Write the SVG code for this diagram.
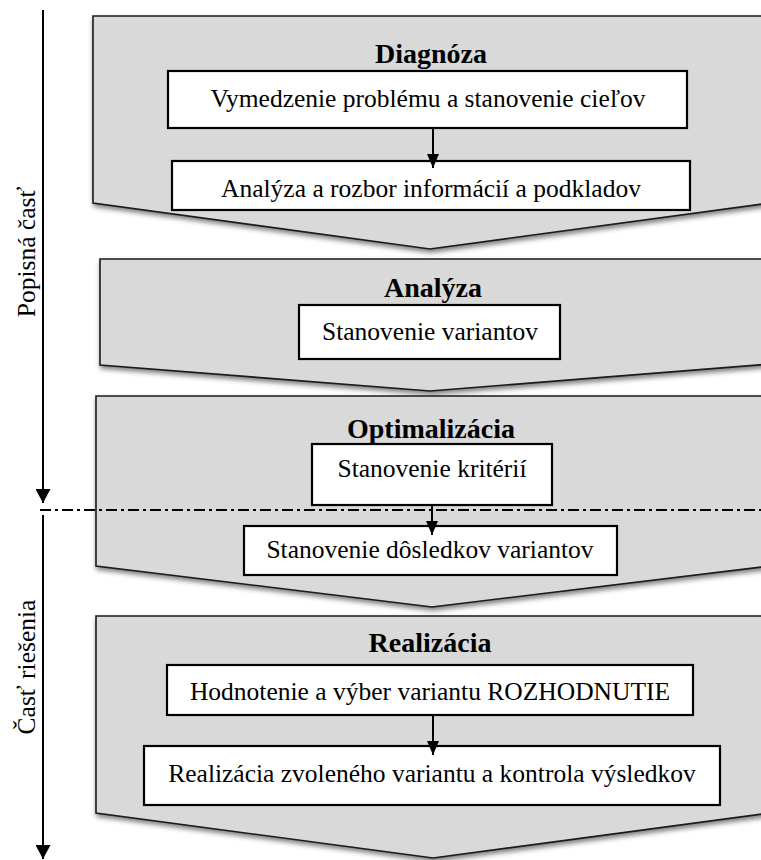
<svg xmlns="http://www.w3.org/2000/svg" width="761" height="860" viewBox="0 0 761 860">
  <defs>
    <filter id="shadow" x="-10%" y="-10%" width="120%" height="130%">
      <feDropShadow dx="1" dy="3" stdDeviation="2.5" flood-color="#000" flood-opacity="0.5"/>
    </filter>
    <!-- downward-pointing heads, fixed orientation -->
    <marker id="head" viewBox="0 0 12 14" refX="6" refY="14" markerWidth="12" markerHeight="14" markerUnits="userSpaceOnUse">
      <path d="M0,0 L12,0 L6,14 Z" fill="#000"/>
    </marker>
    <marker id="headBig" viewBox="0 0 15 14" refX="7.5" refY="14" markerWidth="15" markerHeight="14" markerUnits="userSpaceOnUse">
      <path d="M0,0 L15,0 L7.5,14 Z" fill="#000"/>
    </marker>
  </defs>
  <style>
    .phase { fill: #d9d9d9; stroke: #1a1a1a; stroke-width: 1.6; filter: url(#shadow); }
    .box { fill: #fff; stroke: #000; stroke-width: 2.2; }
    .title { font-family: "Liberation Serif", "Times New Roman", serif; font-size: 28px; font-weight: bold; text-anchor: middle; fill: #000; }
    .label { font-family: "Liberation Serif", "Times New Roman", serif; font-size: 25.5px; text-anchor: middle; fill: #000; }
    .side { font-family: "Liberation Serif", "Times New Roman", serif; font-size: 25.5px; text-anchor: middle; fill: #000; }
    .link { stroke: #000; stroke-width: 2; fill: none; }
  </style>

  <!-- phase 1 -->
  <g id="diagnoza">
    <polygon class="phase" points="93,16 770,16 770,203 430,249 93,203"/>
    <text class="title" x="431" y="63">Diagnóza</text>
    <rect class="box" x="168" y="71" width="519" height="57"/>
    <text class="label" x="428" y="107">Vymedzenie problému a stanovenie cieľov</text>
    <rect class="box" x="172" y="161" width="518" height="49"/>
    <text class="label" x="431" y="197">Analýza a rozbor informácií a podkladov</text>
  </g>

  <!-- phase 2 -->
  <g id="analyza">
    <polygon class="phase" points="100,259 770,259 770,364 430,391 100,365"/>
    <text class="title" x="433" y="297">Analýza</text>
    <rect class="box" x="299" y="305" width="261" height="54"/>
    <text class="label" x="430" y="340">Stanovenie variantov</text>
  </g>

  <!-- phase 3 -->
  <g id="optimalizacia">
    <polygon class="phase" points="96,396 770,396 770,566 432,607 96,566"/>
    <text class="title" x="431" y="438">Optimalizácia</text>
    <rect class="box" x="312" y="444" width="240" height="61"/>
    <text class="label" x="432" y="477">Stanovenie kritérií</text>
    <rect class="box" x="244" y="526" width="373" height="49"/>
    <text class="label" x="430" y="558">Stanovenie dôsledkov variantov</text>
  </g>

  <!-- phase 4 -->
  <g id="realizacia">
    <polygon class="phase" points="96,616 770,616 770,813 433,858 96,813"/>
    <text class="title" x="430" y="652">Realizácia</text>
    <rect class="box" x="167" y="665" width="526" height="50"/>
    <text class="label" x="430" y="700">Hodnotenie a výber variantu ROZHODNUTIE</text>
    <rect class="box" x="144" y="746" width="576" height="59"/>
    <text class="label" x="432" y="782">Realizácia zvoleného variantu a kontrola výsledkov</text>
  </g>

  <!-- section divider -->
  <line x1="40" y1="510" x2="761" y2="510" stroke="#000" stroke-width="2" stroke-dasharray="11,4,3,4"/>

  <!-- connectors -->
  <g id="connectors">
    <line class="link" x1="433" y1="128" x2="433" y2="168" marker-end="url(#head)"/>
    <line class="link" x1="432" y1="505" x2="432" y2="535" marker-end="url(#head)"/>
    <line class="link" x1="433" y1="715" x2="433" y2="755" marker-end="url(#head)"/>
    <line class="link" x1="43" y1="10" x2="43" y2="503" marker-end="url(#headBig)"/>
    <line class="link" x1="43" y1="515" x2="43" y2="859" marker-end="url(#headBig)"/>
  </g>

  <!-- side labels -->
  <g id="side-labels">
    <text class="side" transform="translate(35,252) rotate(-90)">Popisná časť</text>
    <text class="side" transform="translate(35,667) rotate(-90)">Časť riešenia</text>
  </g>
</svg>
